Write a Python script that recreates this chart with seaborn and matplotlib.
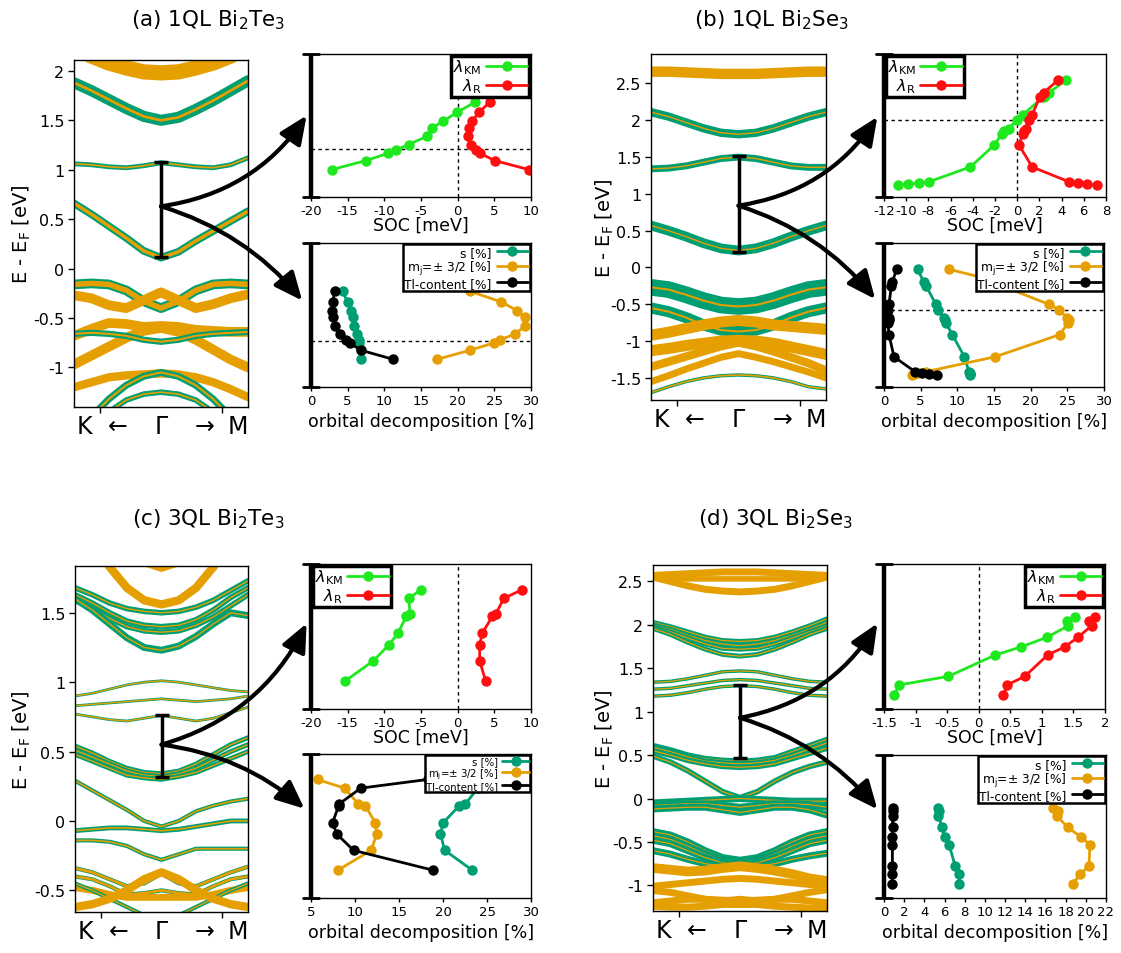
import numpy as np
import pandas as pd
import matplotlib
matplotlib.use("Agg")
import matplotlib.pyplot as plt
import seaborn as sns
from matplotlib.patches import ConnectionPatch, ArrowStyle

# ---------------------------------------------------------------- data
K_PATH = [-1.0, -0.8, -0.6, -0.4, -0.2, 0.0, 0.2, 0.4, 0.6, 0.8, 1.0]

# band energies (eV) at K_PATH, s-weight and mj=3/2-weight per band
bands_a = [
    [2.25, 2.15, 2.08, 2.03, 1.99, 1.98, 1.99, 2.03, 2.08, 2.15, 2.25],
    [1.88, 1.80, 1.71, 1.62, 1.54, 1.50, 1.53, 1.61, 1.70, 1.80, 1.90],
    [1.06, 1.05, 1.03, 1.02, 1.04, 1.07, 1.05, 1.03, 1.02, 1.05, 1.12],
    [0.66, 0.55, 0.43, 0.31, 0.18, 0.11, 0.17, 0.28, 0.38, 0.48, 0.58],
    [-0.16, -0.15, -0.16, -0.22, -0.33, -0.40, -0.33, -0.22, -0.16, -0.15, -0.16],
    [-0.27, -0.30, -0.37, -0.40, -0.32, -0.24, -0.32, -0.40, -0.36, -0.30, -0.26],
    [-0.68, -0.61, -0.55, -0.56, -0.59, -0.58, -0.59, -0.62, -0.63, -0.64, -0.64],
    [-0.97, -0.88, -0.79, -0.70, -0.63, -0.60, -0.64, -0.72, -0.82, -0.92, -1.00],
    [-0.66, -0.65, -0.66, -0.68, -0.72, -0.74, -0.72, -0.68, -0.66, -0.65, -0.64],
    [-1.20, -1.15, -1.10, -1.08, -1.07, -1.06, -1.07, -1.10, -1.15, -1.22, -1.30],
    [-1.70, -1.50, -1.32, -1.18, -1.09, -1.05, -1.09, -1.18, -1.32, -1.50, -1.70],
    [-2.00, -1.80, -1.45, -1.33, -1.27, -1.25, -1.27, -1.33, -1.45, -1.80, -2.00],
]
s_w_a = [0.0, 0.8, 0.35, 0.55, 0.7, 0.6, 0.0, 0.0, 0.45, 0.0, 0.5, 0.4]
mj_w_a = [1.1, 0.2, 0.12, 0.25, 0.4, 0.7, 0.7, 0.7, 0.15, 0.6, 0.15, 0.12]

bands_b = [
    [2.66, 2.66, 2.65, 2.64, 2.63, 2.63, 2.63, 2.64, 2.65, 2.66, 2.66],
    [2.11, 2.05, 1.97, 1.89, 1.83, 1.81, 1.83, 1.89, 1.97, 2.05, 2.11],
    [1.34, 1.35, 1.38, 1.43, 1.48, 1.50, 1.48, 1.43, 1.38, 1.36, 1.36],
    [0.57, 0.50, 0.42, 0.33, 0.26, 0.23, 0.26, 0.33, 0.42, 0.50, 0.57],
    [-0.27, -0.30, -0.37, -0.45, -0.51, -0.53, -0.51, -0.45, -0.37, -0.30, -0.27],
    [-0.55, -0.60, -0.68, -0.78, -0.85, -0.87, -0.85, -0.78, -0.68, -0.60, -0.55],
    [-0.92, -0.88, -0.83, -0.78, -0.74, -0.72, -0.74, -0.78, -0.80, -0.82, -0.84],
    [-1.13, -1.10, -1.06, -1.03, -1.00, -0.99, -1.00, -1.03, -1.08, -1.13, -1.18],
    [-1.35, -1.28, -1.21, -1.14, -1.07, -1.02, -1.07, -1.14, -1.22, -1.30, -1.40],
    [-1.55, -1.47, -1.38, -1.30, -1.22, -1.17, -1.22, -1.28, -1.35, -1.42, -1.50],
    [-1.70, -1.62, -1.55, -1.50, -1.47, -1.46, -1.47, -1.50, -1.55, -1.62, -1.65],
]
s_w_b = [0.0, 0.6, 0.5, 0.7, 1.2, 0.8, 0.0, 0.0, 0.0, 0.0, 0.25]
mj_w_b = [0.75, 0.1, 0.1, 0.1, 0.15, 0.15, 0.8, 0.8, 0.6, 0.5, 0.12]

bands_c = [
    [2.60, 2.40, 2.20, 2.00, 1.86, 1.82, 1.86, 2.00, 2.20, 2.40, 2.60],
    [2.30, 2.05, 1.83, 1.68, 1.59, 1.56, 1.59, 1.68, 1.83, 2.05, 2.30],
    [1.68, 1.63, 1.57, 1.53, 1.51, 1.50, 1.51, 1.54, 1.59, 1.66, 1.73],
    [1.63, 1.57, 1.50, 1.44, 1.41, 1.40, 1.41, 1.45, 1.52, 1.61, 1.68],
    [1.59, 1.53, 1.46, 1.40, 1.37, 1.36, 1.37, 1.41, 1.47, 1.55, 1.63],
    [1.60, 1.52, 1.42, 1.32, 1.25, 1.23, 1.26, 1.33, 1.42, 1.50, 1.48],
    [0.90, 0.92, 0.95, 0.98, 1.00, 1.01, 1.00, 0.98, 0.96, 0.94, 0.93],
    [0.83, 0.84, 0.85, 0.86, 0.87, 0.88, 0.87, 0.86, 0.87, 0.88, 0.90],
    [0.77, 0.75, 0.73, 0.72, 0.74, 0.76, 0.74, 0.72, 0.74, 0.78, 0.82],
    [0.54, 0.49, 0.43, 0.38, 0.35, 0.34, 0.36, 0.41, 0.48, 0.55, 0.60],
    [0.51, 0.46, 0.41, 0.36, 0.33, 0.32, 0.34, 0.38, 0.44, 0.50, 0.55],
    [0.48, 0.43, 0.38, 0.33, 0.31, 0.30, 0.32, 0.35, 0.40, 0.45, 0.50],
    [0.29, 0.22, 0.15, 0.08, 0.00, -0.04, 0.00, 0.07, 0.11, 0.14, 0.16],
    [-0.07, -0.06, -0.05, -0.05, -0.06, -0.07, -0.06, -0.04, -0.02, 0.00, 0.00],
    [-0.14, -0.14, -0.15, -0.18, -0.24, -0.28, -0.24, -0.20, -0.20, -0.20, -0.20],
    [-0.34, -0.37, -0.42, -0.47, -0.45, -0.38, -0.45, -0.47, -0.42, -0.37, -0.33],
    [-0.40, -0.42, -0.47, -0.53, -0.52, -0.50, -0.52, -0.53, -0.47, -0.42, -0.40],
    [-0.48, -0.50, -0.53, -0.55, -0.55, -0.55, -0.55, -0.55, -0.53, -0.50, -0.48],
    [-0.45, -0.50, -0.56, -0.62, -0.68, -0.72, -0.68, -0.62, -0.56, -0.50, -0.45],
    [-0.62, -0.60, -0.56, -0.50, -0.42, -0.37, -0.42, -0.50, -0.56, -0.60, -0.62],
]
s_w_c = [0.0, 0.0, 0.4, 0.4, 0.4, 0.5, 0.2, 0.2, 0.2, 0.35, 0.35, 0.35,
         0.3, 0.35, 0.3, 0.3, 0.3, 0.0, 0.3, 0.0]
mj_w_c = [0.5, 0.6, 0.1, 0.1, 0.1, 0.1, 0.1, 0.1, 0.1, 0.1, 0.1, 0.1,
          0.12, 0.12, 0.12, 0.2, 0.2, 0.5, 0.1, 0.6]

bands_d = [
    [2.57, 2.58, 2.59, 2.60, 2.61, 2.61, 2.61, 2.60, 2.59, 2.58, 2.57],
    [2.55, 2.54, 2.53, 2.53, 2.53, 2.53, 2.53, 2.53, 2.53, 2.54, 2.55],
    [2.55, 2.50, 2.45, 2.41, 2.39, 2.38, 2.39, 2.41, 2.45, 2.50, 2.55],
    [2.03, 1.98, 1.92, 1.86, 1.82, 1.81, 1.82, 1.86, 1.92, 1.99, 2.07],
    [2.00, 1.95, 1.88, 1.82, 1.78, 1.76, 1.78, 1.82, 1.88, 1.95, 2.03],
    [1.98, 1.92, 1.85, 1.78, 1.73, 1.72, 1.73, 1.78, 1.85, 1.92, 1.99],
    [1.96, 1.89, 1.80, 1.72, 1.66, 1.64, 1.66, 1.72, 1.80, 1.89, 1.96],
    [1.34, 1.35, 1.38, 1.42, 1.46, 1.47, 1.46, 1.42, 1.38, 1.35, 1.34],
    [1.26, 1.27, 1.30, 1.33, 1.36, 1.37, 1.36, 1.33, 1.30, 1.27, 1.26],
    [1.18, 1.19, 1.22, 1.26, 1.29, 1.30, 1.29, 1.26, 1.22, 1.19, 1.18],
    [0.61, 0.56, 0.50, 0.46, 0.44, 0.43, 0.44, 0.47, 0.54, 0.61, 0.68],
    [0.59, 0.54, 0.48, 0.43, 0.41, 0.40, 0.41, 0.44, 0.50, 0.57, 0.64],
    [0.55, 0.50, 0.44, 0.40, 0.37, 0.36, 0.37, 0.40, 0.46, 0.52, 0.58],
    [0.49, 0.42, 0.32, 0.20, 0.08, 0.01, 0.08, 0.20, 0.30, 0.37, 0.42],
    [-0.05, -0.04, -0.03, -0.02, -0.01, 0.00, -0.01, -0.02, -0.03, -0.03, -0.03],
    [-0.08, -0.07, -0.06, -0.06, -0.08, -0.10, -0.08, -0.06, -0.06, -0.07, -0.10],
    [-0.12, -0.11, -0.10, -0.10, -0.13, -0.16, -0.13, -0.10, -0.10, -0.13, -0.19],
    [-0.38, -0.42, -0.50, -0.60, -0.68, -0.71, -0.68, -0.60, -0.50, -0.42, -0.38],
    [-0.43, -0.47, -0.55, -0.64, -0.71, -0.74, -0.71, -0.64, -0.55, -0.47, -0.43],
    [-0.48, -0.52, -0.60, -0.68, -0.74, -0.77, -0.74, -0.68, -0.60, -0.52, -0.48],
    [-0.60, -0.64, -0.70, -0.75, -0.78, -0.79, -0.78, -0.75, -0.70, -0.66, -0.63],
    [-0.80, -0.82, -0.84, -0.83, -0.80, -0.78, -0.80, -0.83, -0.87, -0.92, -0.95],
    [-1.01, -0.99, -0.97, -0.95, -0.93, -0.92, -0.93, -0.95, -0.97, -0.99, -1.00],
    [-1.06, -1.08, -1.12, -1.16, -1.18, -1.16, -1.18, -1.16, -1.12, -1.08, -1.05],
    [-1.20, -1.18, -1.16, -1.16, -1.17, -1.18, -1.17, -1.16, -1.16, -1.18, -1.20],
    [-1.24, -1.25, -1.25, -1.24, -1.22, -1.22, -1.22, -1.24, -1.25, -1.26, -1.27],
]
s_w_d = [0.0, 0.0, 0.0, 0.35, 0.35, 0.35, 0.35, 0.25, 0.25, 0.25, 0.4, 0.4, 0.4, 0.4,
         0.5, 0.5, 0.5, 0.5, 0.5, 0.5, 0.5, 0.0, 0.0, 0.0, 0.0, 0.0]
mj_w_d = [0.5, 0.4, 0.5, 0.09, 0.09, 0.09, 0.09, 0.09, 0.09, 0.09, 0.09, 0.09, 0.09, 0.09,
          0.09, 0.09, 0.09, 0.09, 0.09, 0.09, 0.09, 0.7, 0.5, 0.5, 0.5, 0.5]

# gap range (eV) and the energy where the arrows start
gap_a, mid_a = (0.12, 1.08), 0.63
gap_b, mid_b = (0.21, 1.51), 0.84
gap_c, mid_c = (0.32, 0.76), 0.55
gap_d, mid_d = (0.47, 1.31), 0.93

# inset data: relative energy level (0..1 of inset height), SOC and orbital characters
lev_a = [0.192, 0.255, 0.306, 0.328, 0.367, 0.424, 0.484, 0.530, 0.591, 0.665]
km_a = [-17.16, -12.47, -9.49, -8.45, -6.69, -4.21, -3.45, -2.0, -0.11, 2.42]
r_a = [9.68, 5.03, 3.05, 2.55, 1.79, 1.38, 1.56, 1.92, 2.91, 4.40]
s_a = [6.83, 6.79, 6.61, 6.52, 6.24, 5.84, 5.66, 5.43, 4.98, 4.30]
mj_a = [17.19, 21.67, 24.93, 25.75, 27.78, 29.23, 29.14, 28.10, 25.97, 21.63]
tl_a = [11.22, 6.83, 5.25, 4.71, 3.98, 3.21, 2.99, 2.90, 2.94, 3.26]
ef_soc_a, ef_orb_a = 0.334, 0.322

lev_b = [0.082, 0.089, 0.098, 0.107, 0.210, 0.364, 0.444, 0.465, 0.479, 0.537,
         0.575, 0.701, 0.729, 0.818]
km_b = [-10.77, -9.87, -8.86, -7.93, -4.22, -2.06, -1.37, -1.22, -0.77, -0.02,
        0.51, 2.37, 2.85, 4.41]
r_b = [7.19, 6.29, 5.49, 4.65, 1.35, 0.16, 0.51, 0.57, 0.75, 1.05, 1.35, 2.04, 2.37, 3.69]
s_b = [11.76, 11.76, 11.67, 11.58, 10.95, 9.32, 8.46, 8.37, 8.14, 7.42, 7.06, 5.75, 5.43, 4.57]
mj_b = [3.76, 4.1, 4.6, 5.79, 15.16, 23.98, 25.07, 25.16, 24.98, 23.89, 22.44, 16.15, 15.8, 8.82]
tl_b = [7.24, 6.20, 5.20, 4.21, 1.36, 0.68, 0.54, 0.68, 0.68, 0.54, 0.68, 1.0, 1.13, 1.72]
ef_soc_b, ef_orb_b = 0.537, 0.535

lev_c = [0.193, 0.331, 0.444, 0.522, 0.639, 0.653, 0.763, 0.823]
km_c = [-15.35, -11.52, -9.35, -8.14, -7.01, -6.47, -6.69, -4.98]
r_c = [3.82, 3.0, 3.0, 3.36, 4.72, 5.17, 6.30, 8.78]
s_c = [23.33, 20.20, 19.71, 20.01, 21.82, 22.53, 23.97, 26.0]
mj_c = [8.05, 11.83, 12.47, 12.32, 11.18, 10.39, 8.81, 5.75]
tl_c = [18.88, 9.83, 7.94, 7.45, 8.13, 8.2, 10.66, 18.24]

lev_d = [0.097, 0.166, 0.225, 0.372, 0.428, 0.494, 0.575, 0.609, 0.632]
km_d = [-1.34, -1.26, -0.48, 0.26, 0.67, 1.08, 1.42, 1.40, 1.52]
r_d = [0.39, 0.45, 0.73, 1.09, 1.36, 1.57, 1.79, 1.75, 1.84]
s_d = [7.48, 7.41, 7.05, 6.45, 6.02, 5.76, 5.39, 5.49, 5.33]
mj_d = [18.69, 19.45, 20.31, 20.41, 19.52, 18.19, 17.14, 17.23, 16.74]
tl_d = [0.83, 0.83, 0.83, 0.83, 0.83, 0.86, 0.86, 0.93, 0.93]

titles = [r"(a) 1QL Bi$_2$Te$_3$", r"(b) 1QL Bi$_2$Se$_3$",
          r"(c) 3QL Bi$_2$Te$_3$", r"(d) 3QL Bi$_2$Se$_3$"]
k_labels = ["K", "←", "Γ", "→", "M"]

# ---------------------------------------------------------------- style
sns.set_theme(style="white")
plt.rcParams["font.family"] = ["DejaVu Sans"]
plt.rcParams["mathtext.fontset"] = "dejavusans"
plt.rcParams["axes.unicode_minus"] = False
plt.rcParams["axes.edgecolor"] = "black"
plt.rcParams["axes.linewidth"] = 1.0
plt.rcParams["text.color"] = "black"
plt.rcParams["axes.labelcolor"] = "black"
plt.rcParams["xtick.color"] = "black"
plt.rcParams["ytick.color"] = "black"
plt.rcParams["legend.labelcolor"] = "black"

GREEN = "#009E73"
ORANGE = "#E69F00"
LIME = "#1ee81e"
RED = "#ff0f0f"
LW = 10.0

W, H = 1121, 954
fig = plt.figure(figsize=(W / 100, H / 100), dpi=100)


def ax_px(l, t, r, b):
    return fig.add_axes([l / W, 1 - b / H, (r - l) / W, (b - t) / H])


def band_panel(box, bands, sw, mw, ylim, yticks, gap):
    ax = ax_px(*box)
    for e, s, m in zip(bands, sw, mw):
        if s > 0:
            ax.plot(K_PATH, e, color=GREEN, lw=s * LW, solid_joinstyle="round",
                    solid_capstyle="round", zorder=2)
        if m > 0:
            ax.plot(K_PATH, e, color=ORANGE, lw=m * LW, solid_joinstyle="round",
                    solid_capstyle="round", zorder=2)
    ax.errorbar([0.0], [(gap[0] + gap[1]) / 2], yerr=[(gap[1] - gap[0]) / 2],
                color="black", lw=2.5, capsize=5, capthick=2.5, zorder=5)
    ax.set_xlim(-1, 1)
    ax.set_ylim(*ylim)
    ax.set_yticks(yticks)
    ax.set_yticklabels([f"{t:g}" for t in yticks], fontsize=11.5)
    ax.set_xticks([-0.88, -0.5, 0, 0.5, 0.88])
    ax.set_xticklabels(k_labels, fontsize=17)
    ax.set_xticks([-0.7, 0, 0.7], minor=True)
    ax.tick_params(axis="x", which="major", length=0, pad=5)
    ax.tick_params(axis="x", which="minor", bottom=True, length=4, width=1, direction="out")
    ax.tick_params(axis="y", left=True, length=4, width=1, direction="out", pad=3)
    for sp in ax.spines.values():
        sp.set_linewidth(1.0)
    return ax


def gap_marker(ax):
    ax.plot([0, 0], [0, 1], transform=ax.transAxes, color="black", lw=3.2,
            clip_on=False, zorder=6, solid_capstyle="butt")
    ax.plot([-0.035, 0.035], [0, 0], transform=ax.transAxes, color="black", lw=2,
            clip_on=False, zorder=6)
    ax.plot([-0.035, 0.035], [1, 1], transform=ax.transAxes, color="black", lw=2,
            clip_on=False, zorder=6)


def series(ax, vals, lev, color, label):
    sns.lineplot(x=vals, y=lev, orient="y", sort=False, estimator=None, ax=ax,
                 color=color, lw=2, marker="o", markersize=7.5,
                 markeredgecolor=color, markeredgewidth=0, label=label)


def finish_inset(ax, xlim, xticks, xlabels, xlabel, labelpad):
    ax.set_xlim(*xlim)
    ax.set_ylim(0, 1)
    ax.set_yticks([])
    ax.set_xticks(xticks)
    ax.set_xticklabels(xlabels, fontsize=9.5)
    ax.tick_params(axis="x", bottom=True, length=3, width=1, direction="out", pad=2)
    ax.set_xlabel(xlabel, fontsize=12.5, labelpad=labelpad)
    ax.set_ylabel("")
    gap_marker(ax)


def soc_inset(box, lev, km, r, xlim, xticks, xlabels, ef, loc):
    ax = ax_px(*box)
    ax.axvline(0, color="black", lw=1, ls=(0, (2.5, 2.5)), zorder=1)
    if ef is not None:
        ax.axhline(ef, color="black", lw=1, ls=(0, (2.5, 2.5)), zorder=1)
    series(ax, km, lev, LIME, r"$\lambda_{\mathrm{KM}}$")
    series(ax, r, lev, RED, r"$\lambda_{\mathrm{R}}$")
    h, l = ax.get_legend_handles_labels()
    leg = ax.legend(h, l, loc=loc, markerfirst=False, fontsize=11.5, frameon=True,
                    fancybox=False, framealpha=1, borderpad=0.1, labelspacing=0.0,
                    handlelength=2.6, handletextpad=0.3, borderaxespad=0.12)
    leg.get_frame().set_edgecolor("black")
    leg.get_frame().set_linewidth(2.5)
    finish_inset(ax, xlim, xticks, xlabels, "SOC [meV]", -1)
    return ax


def orb_inset(box, lev, s, mj, tl, xlim, xticks, ef, legfs):
    ax = ax_px(*box)
    if ef is not None:
        ax.axhline(ef, color="black", lw=1, ls=(0, (2.5, 2.5)), zorder=1)
    series(ax, s, lev, GREEN, "s [%]")
    series(ax, mj, lev, ORANGE, r"m$_\mathrm{j}$=± 3/2 [%]")
    series(ax, tl, lev, "black", "Tl-content [%]")
    h, l = ax.get_legend_handles_labels()
    leg = ax.legend(h, l, loc="upper right", markerfirst=False, fontsize=legfs, frameon=True,
                    fancybox=False, framealpha=1, borderpad=0.12, labelspacing=0.0,
                    handlelength=2.6, handletextpad=0.4, borderaxespad=0.1)
    leg.get_frame().set_edgecolor("black")
    leg.get_frame().set_linewidth(1.8)
    leg.set_zorder(10)
    finish_inset(ax, xlim, xticks, [f"{t:g}" for t in xticks],
                 "orbital decomposition [%]", 4)
    return ax


def arrow(ax_from, mid, ax_to, tgt, rad):
    con = ConnectionPatch(xyA=(0.0, mid), coordsA=ax_from.transData,
                          xyB=tgt, coordsB=ax_to.transAxes,
                          arrowstyle=ArrowStyle("-|>", head_length=0.95, head_width=0.42),
                          mutation_scale=18, lw=3, color="black",
                          connectionstyle=f"arc3,rad={rad}", shrinkA=0, shrinkB=0,
                          zorder=20)
    fig.add_artist(con)


# ---------------------------------------------------------------- panels
soc_ticks_ab = [-20, -15, -10, -5, 0, 5, 10]
panels = [
    dict(band=(74, 61, 248, 408), bands=bands_a, sw=s_w_a, mw=mj_w_a,
         ylim=(-1.40, 2.11), yt=[-1, -0.5, 0, 0.5, 1, 1.5, 2], gap=gap_a, mid=mid_a,
         soc=(311, 55, 531, 198), orb=(311, 244, 531, 388),
         lev=lev_a, km=km_a, r=r_a, s=s_a, mj=mj_a, tl=tl_a,
         sxl=(-20, 10), sxt=soc_ticks_ab, sxlab=[str(t) for t in soc_ticks_ab],
         ef_s=ef_soc_a, ef_o=ef_orb_a, sloc="upper right",
         oxl=(0, 30), oxt=[0, 5, 10, 15, 20, 25, 30], ofs=8.8,
         title=titles[0], tpos=(208, 20), ylab=(22, 234),
         t_up=(-0.02, 0.57), t_lo=(-0.04, 0.60), r_up=0.22, r_lo=-0.15),
    dict(band=(651, 55, 826, 401), bands=bands_b, sw=s_w_b, mw=mj_w_b,
         ylim=(-1.80, 2.90), yt=[-1.5, -1, -0.5, 0, 0.5, 1, 1.5, 2, 2.5], gap=gap_b, mid=mid_b,
         soc=(884, 55, 1106, 198), orb=(884, 244, 1104, 388),
         lev=lev_b, km=km_b, r=r_b, s=s_b, mj=mj_b, tl=tl_b,
         sxl=(-12, 8), sxt=list(range(-12, 9, 2)), sxlab=[str(t) for t in range(-12, 9, 2)],
         ef_s=ef_soc_b, ef_o=ef_orb_b, sloc="upper left",
         oxl=(0, 30), oxt=[0, 5, 10, 15, 20, 25, 30], ofs=8.8,
         title=titles[1], tpos=(772, 20), ylab=(605, 228),
         t_up=(-0.03, 0.56), t_lo=(-0.04, 0.61), r_up=0.22, r_lo=-0.15),
    dict(band=(75, 567, 248, 913), bands=bands_c, sw=s_w_c, mw=mj_w_c,
         ylim=(-0.656, 1.837), yt=[-0.5, 0, 0.5, 1, 1.5], gap=gap_c, mid=mid_c,
         soc=(311, 565, 531, 710), orb=(311, 755, 531, 899),
         lev=lev_c, km=km_c, r=r_c, s=s_c, mj=mj_c, tl=tl_c,
         sxl=(-20, 10), sxt=soc_ticks_ab, sxlab=[str(t) for t in soc_ticks_ab],
         ef_s=None, ef_o=None, sloc="upper left",
         oxl=(5, 30), oxt=[5, 10, 15, 20, 25, 30], ofs=7.3,
         title=titles[2], tpos=(208, 519), ylab=(22, 740),
         t_up=(-0.02, 0.59), t_lo=(-0.03, 0.62), r_up=0.22, r_lo=-0.15),
    dict(band=(653, 566, 827, 912), bands=bands_d, sw=s_w_d, mw=mj_w_d,
         ylim=(-1.295, 2.69), yt=[-1, -0.5, 0, 0.5, 1, 1.5, 2, 2.5], gap=gap_d, mid=mid_d,
         soc=(884, 565, 1105, 710), orb=(884, 756, 1106, 899),
         lev=lev_d, km=km_d, r=r_d, s=s_d, mj=mj_d, tl=tl_d,
         sxl=(-1.5, 2), sxt=[-1.5, -1, -0.5, 0, 0.5, 1, 1.5, 2],
         sxlab=["-1.5", "-1", "-0.5", "0", "0.5", "1", "1.5", "2"],
         ef_s=None, ef_o=None, sloc="upper right",
         oxl=(0, 22), oxt=list(range(0, 23, 2)), ofs=8.8,
         title=titles[3], tpos=(775, 519), ylab=(605, 739),
         t_up=(-0.03, 0.59), t_lo=(-0.03, 0.62), r_up=0.22, r_lo=-0.15),
]

for p in panels:
    axb = band_panel(p["band"], p["bands"], p["sw"], p["mw"], p["ylim"], p["yt"], p["gap"])
    axs = soc_inset(p["soc"], p["lev"], p["km"], p["r"], p["sxl"], p["sxt"], p["sxlab"],
                    p["ef_s"], p["sloc"])
    axo = orb_inset(p["orb"], p["lev"], p["s"], p["mj"], p["tl"], p["oxl"], p["oxt"],
                    p["ef_o"], p["ofs"])
    arrow(axb, p["mid"], axs, p["t_up"], p["r_up"])
    arrow(axb, p["mid"], axo, p["t_lo"], p["r_lo"])
    fig.text(p["tpos"][0] / W, 1 - p["tpos"][1] / H, p["title"], ha="center",
             va="center", fontsize=15.5)
    fig.text(p["ylab"][0] / W, 1 - p["ylab"][1] / H, r"E - E$_\mathrm{F}$ [eV]",
             ha="center", va="center", rotation=90, fontsize=14)

fig.savefig("out.png", dpi=100)
